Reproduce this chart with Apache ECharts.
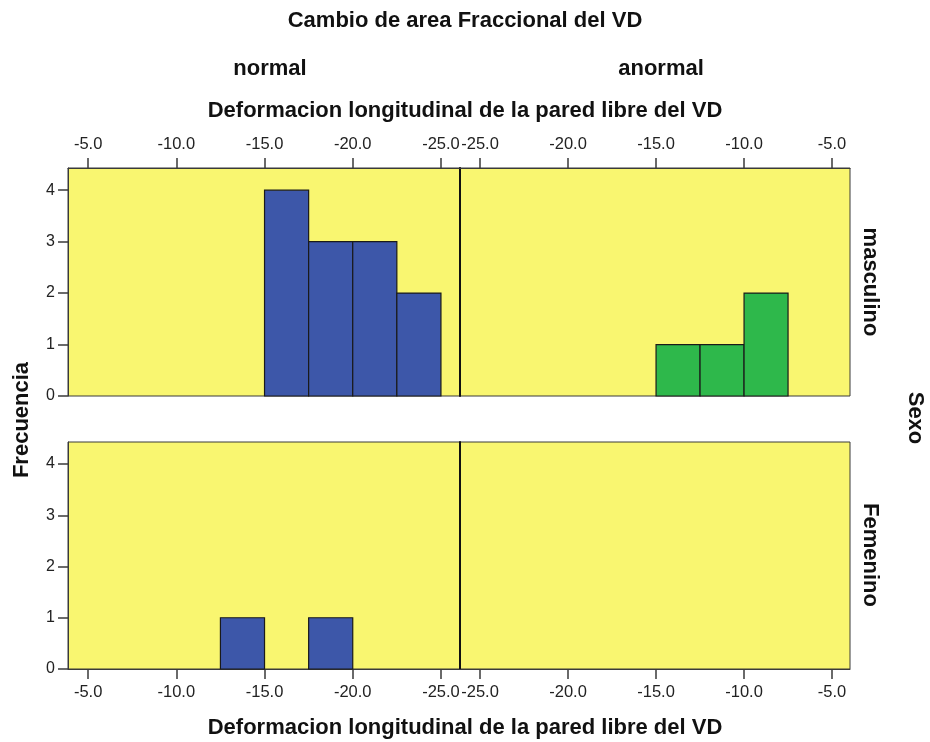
<!DOCTYPE html>
<html>
<head>
<meta charset="utf-8">
<script src="https://cdn.jsdelivr.net/npm/echarts@6/dist/echarts.min.js"></script>
<style>html,body{margin:0;padding:0;background:#fff;}#c{width:930px;height:742px;}</style>
</head>
<body>
<div id="c"></div>
<script>
// Data (bins of width 2.5 in "Deformacion longitudinal de la pared libre del VD")
const xTicks = [-25, -20, -15, -10, -5];
const yTicks = [0, 1, 2, 3, 4];
// normal / masculino
const normMascBinStart = [-15, -17.5, -20, -22.5];
const normMascBinEnd   = [-17.5, -20, -22.5, -25];
const normMascCount    = [4, 3, 3, 2];
// anormal / masculino
const anorMascBinStart = [-15, -12.5, -10];
const anorMascBinEnd   = [-12.5, -10, -7.5];
const anorMascCount    = [1, 1, 2];
// normal / Femenino
const normFemBinStart = [-12.5, -17.5];
const normFemBinEnd   = [-15, -20];
const normFemCount    = [1, 1];
// anormal / Femenino
const anorFemBinStart = [];
const anorFemBinEnd   = [];
const anorFemCount    = [];

const FONT = '"Liberation Sans", Arial, sans-serif';
const YELLOW = '#f9f670';
const BLUE = '#3d57a9';
const GREEN = '#2eb84b';
const BORDER = '#3a3a3a';
const TSIZE = 22;

function bins(s, e, c) { return s.map((v, i) => [v, e[i], c[i]]); }

const grids = [
  { left: 68, top: 168, width: 392, height: 228 },
  { left: 460, top: 168, width: 390, height: 228 },
  { left: 68, top: 442, width: 392, height: 227 },
  { left: 460, top: 442, width: 390, height: 227 }
].map(g => Object.assign(g, { show: true, backgroundColor: YELLOW, borderColor: BORDER, borderWidth: 1 }));

function xAxis(idx, inverse, pos) {
  return {
    type: 'value', gridIndex: idx, inverse: inverse, position: pos,
    min: inverse ? -26.08 : -26.14, max: inverse ? -3.86 : -3.98,
    splitLine: { show: false },
    axisLine: { show: true, onZero: false, lineStyle: { color: BORDER, width: 1 } },
    axisTick: { show: true, inside: false, length: 10, customValues: xTicks, lineStyle: { color: BORDER, width: 1.5 } },
    axisLabel: { show: true, customValues: xTicks, formatter: v => v.toFixed(1), color: '#222', fontFamily: FONT, fontSize: 16.5, margin: 15 }
  };
}
function yAxis(idx, showLabels, divider) {
  return {
    type: 'value', gridIndex: idx, min: 0, max: 4.43,
    splitLine: { show: false },
    axisLine: { show: true, lineStyle: { color: divider ? '#111' : BORDER, width: divider ? 2 : 1 } },
    axisTick: { show: showLabels, inside: false, length: 10, customValues: yTicks, lineStyle: { color: BORDER, width: 1.5 } },
    axisLabel: { show: showLabels, customValues: yTicks, color: '#222', fontFamily: FONT, fontSize: 16, margin: 13 }
  };
}

function histSeries(idx, data, color) {
  return {
    type: 'custom', xAxisIndex: idx, yAxisIndex: idx,
    data: data,
    encode: { x: [0, 1], y: 2 },
    renderItem: function (params, api) {
      const p0 = api.coord([api.value(0), api.value(2)]);
      const p1 = api.coord([api.value(1), 0]);
      const x = Math.min(p0[0], p1[0]);
      return {
        type: 'rect',
        shape: { x: x, y: p0[1], width: Math.abs(p1[0] - p0[0]), height: p1[1] - p0[1] },
        style: { fill: color, stroke: '#1a1a1a', lineWidth: 1.2 }
      };
    }
  };
}

const tstyle = { fontFamily: FONT, fontSize: TSIZE, fontWeight: 'bold', color: '#111' };
const chart = echarts.init(document.getElementById('c'), null, { renderer: 'canvas' });
chart.setOption({
  animation: false,
  backgroundColor: '#fff',
  grid: grids,
  xAxis: [xAxis(0, true, 'top'), xAxis(1, false, 'top'), xAxis(2, true, 'bottom'), xAxis(3, false, 'bottom')],
  yAxis: [yAxis(0, true, false), yAxis(1, false, true), yAxis(2, true, false), yAxis(3, false, true)],
  title: [
    { text: 'Cambio de area Fraccional del VD', left: 460, top: 5, textAlign: 'center', textStyle: tstyle },
    { text: 'normal', left: 265, top: 53, textAlign: 'center', textStyle: tstyle },
    { text: 'anormal', left: 656, top: 53, textAlign: 'center', textStyle: tstyle },
    { text: 'Deformacion longitudinal de la pared libre del VD', left: 460, top: 95, textAlign: 'center', textStyle: tstyle },
    { text: 'Deformacion longitudinal de la pared libre del VD', left: 460, top: 712, textAlign: 'center', textStyle: tstyle }
  ],
  graphic: [
    { type: 'text', x: 22, y: 420, rotation: Math.PI / 2, style: { text: 'Frecuencia', font: 'bold ' + TSIZE + 'px ' + FONT, fill: '#111', align: 'center', verticalAlign: 'middle' } },
    { type: 'text', x: 870, y: 282, rotation: -Math.PI / 2, style: { text: 'masculino', font: 'bold ' + TSIZE + 'px ' + FONT, fill: '#111', align: 'center', verticalAlign: 'middle' } },
    { type: 'text', x: 870, y: 555, rotation: -Math.PI / 2, style: { text: 'Femenino', font: 'bold ' + TSIZE + 'px ' + FONT, fill: '#111', align: 'center', verticalAlign: 'middle' } },
    { type: 'text', x: 915, y: 418, rotation: -Math.PI / 2, style: { text: 'Sexo', font: 'bold ' + TSIZE + 'px ' + FONT, fill: '#111', align: 'center', verticalAlign: 'middle' } }
  ],
  series: [
    histSeries(0, bins(normMascBinStart, normMascBinEnd, normMascCount), BLUE),
    histSeries(1, bins(anorMascBinStart, anorMascBinEnd, anorMascCount), GREEN),
    histSeries(2, bins(normFemBinStart, normFemBinEnd, normFemCount), BLUE),
    histSeries(3, bins(anorFemBinStart, anorFemBinEnd, anorFemCount), GREEN)
  ]
});
</script>
</body>
</html>
